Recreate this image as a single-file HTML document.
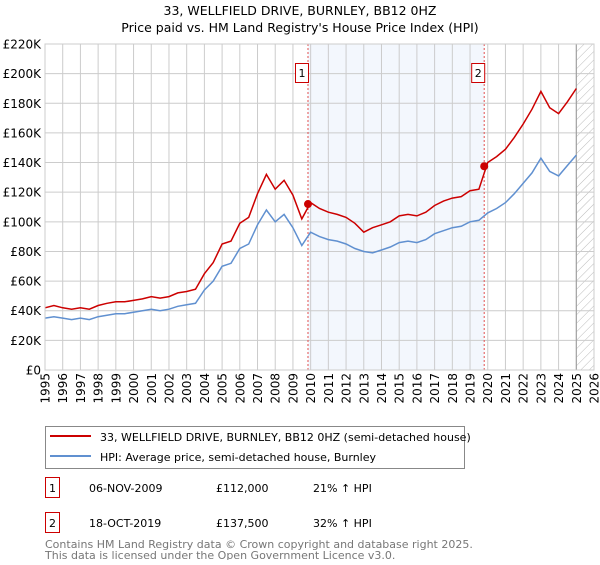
<!DOCTYPE html>
<html><head><meta charset="utf-8"><style>
body{margin:0;background:#fff;font-family:"Liberation Sans",sans-serif;}
svg text{font-family:"DejaVu Sans","Liberation Sans",sans-serif;}
</style></head><body>
<svg id="c" width="600" height="560" xmlns="http://www.w3.org/2000/svg">
<text x="300" y="15" text-anchor="middle" font-size="12.5">33, WELLFIELD DRIVE, BURNLEY, BB12 0HZ</text>
<text x="300" y="32" text-anchor="middle" font-size="12.5">Price paid vs. HM Land Registry's House Price Index (HPI)</text>
<g id="plot"></g>
<g>
<rect x="45.5" y="426.5" width="419" height="42" fill="#fff" stroke="#888"/>
<line x1="50" y1="436" x2="91" y2="436" stroke="#cc0000" stroke-width="2"/>
<text x="100" y="441" font-size="11">33, WELLFIELD DRIVE, BURNLEY, BB12 0HZ (semi-detached house)</text>
<line x1="50" y1="456" x2="91" y2="456" stroke="#6090d0" stroke-width="2"/>
<text x="100" y="461" font-size="11">HPI: Average price, semi-detached house, Burnley</text>
</g>
<g font-size="11">
<rect x="45.5" y="477.5" width="14" height="20" fill="#fff" stroke="#cc0000"/>
<text x="52.5" y="492" text-anchor="middle">1</text>
<text x="89" y="492">06-NOV-2009</text><text x="216" y="492">£112,000</text><text x="313" y="492">21% ↑ HPI</text>
<rect x="45.5" y="512.5" width="14" height="20" fill="#fff" stroke="#cc0000"/>
<text x="52.5" y="527" text-anchor="middle">2</text>
<text x="89" y="527">18-OCT-2019</text><text x="216" y="527">£137,500</text><text x="313" y="527">32% ↑ HPI</text>
</g>
<text x="45" y="548" font-size="11" fill="#777">Contains HM Land Registry data © Crown copyright and database right 2025.</text>
<text x="45" y="559" font-size="11" fill="#777">This data is licensed under the Open Government Licence v3.0.</text>
</svg>
<script>
const hpiValues=[35,36,35,34,35,34,36,37,38,38,39,40,41,40,41,43,44,45,54,60,70,72,82,85,98,108,100,105,96,84,93,90,88,87,85,82,80,79,81,83,86,87,86,88,92,94,96,97,100,101,106,109,113,119,126,133,143,134,131,138,145];
const priceValues=[42,43.5,42,41,42,41,43.5,45,46,46,47,48,49.5,48.5,49.5,52,53,54.5,65,72.5,85,87,99,103,119,132,122,128,118,102,113,109,106.5,105,103,99,93,96,98,100,104,105,104,106.5,111,114,116,117,121,122,140,144,149,157,166,176,188,177,173,181,190];
const startYear=1995, stepYears=0.5;
const yTicks=[0,20000,40000,60000,80000,100000,120000,140000,160000,180000,200000,220000];
const yTickLabels=["£0","£20K","£40K","£60K","£80K","£100K","£120K","£140K","£160K","£180K","£200K","£220K"];
const xYears=[1995,1996,1997,1998,1999,2000,2001,2002,2003,2004,2005,2006,2007,2008,2009,2010,2011,2012,2013,2014,2015,2016,2017,2018,2019,2020,2021,2022,2023,2024,2025,2026];
const saleDates=[2009.85,2019.8];
const salePrices=[112000,137500];
const saleLabels=["1","2"];
const X0=45,X1=594,Y0=370,Y1=44;
const x=t=>X0+(t-1995)/(2026-1995)*(X1-X0);
const y=v=>Y0-v/220000*(Y0-Y1);
const NS="http://www.w3.org/2000/svg",g=document.getElementById('plot');
function mk(tag,a){const e=document.createElementNS(NS,tag);for(const k in a)e.setAttribute(k,a[k]);g.appendChild(e);return e;}
let e=mk('rect',{x:x(saleDates[0]),y:Y1,width:x(saleDates[1])-x(saleDates[0]),height:Y0-Y1,fill:'#eef3fc',opacity:0.7});


const pat=mk('pattern',{id:'h',width:6,height:6,patternUnits:'userSpaceOnUse',patternTransform:'rotate(45)'});
const pl=document.createElementNS(NS,'line');pl.setAttribute('x1',0);pl.setAttribute('y1',0);pl.setAttribute('x2',0);pl.setAttribute('y2',6);pl.setAttribute('stroke','#bbb');pat.appendChild(pl);
e=mk('rect',{x:x(2025),y:Y1,width:X1-x(2025),height:Y0-Y1,fill:'url(#h)'});


yTicks.forEach((v,i)=>{
 e=mk('line',{x1:X0,x2:X1,y1:y(v),y2:y(v),stroke:'#ccc'});
 
 
 e=mk('text',{x:X0-4,y:y(v)+4.5,'text-anchor':'end','font-size':12});e.textContent=yTickLabels[i];
 
 
});
xYears.forEach(t=>{
 e=mk('line',{x1:x(t),x2:x(t),y1:Y1,y2:Y0,stroke:'#ccc'});
 
 
 e=mk('text',{x:0,y:0,'font-size':12,'text-anchor':'end',transform:`translate(${x(t)+4.5},${Y0+3}) rotate(-90)`});e.textContent=t;
 
 
});
e=mk('line',{x1:x(2025),x2:x(2025),y1:Y1,y2:Y0,stroke:'#999'});


saleDates.forEach((d,i)=>{
 e=mk('line',{x1:x(d),x2:x(d),y1:Y1,y2:Y0,stroke:'#e05050','stroke-dasharray':'2,2'});
 
 
});
function path(vals,col,name){
 const d=vals.map((v,i)=>(i?'L':'M')+x(startYear+i*stepYears).toFixed(1)+','+y(v*1000).toFixed(1)).join('');
 const p=mk('path',{d:d,fill:'none',stroke:col,'stroke-width':1.5});
 
 
}
path(hpiValues,'#6090d0','hpi-line');
path(priceValues,'#cc0000','price-line');
saleDates.forEach((d,i)=>{
 e=mk('circle',{cx:x(d),cy:y(salePrices[i]),r:4,fill:'#cc0000'});
 
 
 e=mk('rect',{x:x(d)-12.5,y:63.5,width:13,height:19,fill:'#fff',stroke:'#cc0000'});
 
 
 e=mk('text',{x:x(d)-6,y:77,'text-anchor':'middle','font-size':11});e.textContent=saleLabels[i];
 
 
});
e=mk('rect',{x:X0,y:Y1,width:X1-X0,height:Y0-Y1,fill:'none',stroke:'#ccc'});


</script>
</body></html>
